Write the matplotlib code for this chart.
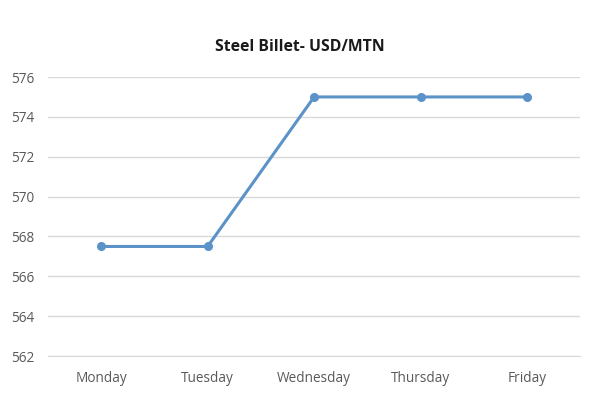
import matplotlib
matplotlib.use("Agg")
import matplotlib.pyplot as plt

days = ["Monday", "Tuesday", "Wednesday", "Thursday", "Friday"]
prices = [567.5, 567.5, 575, 575, 575]
y_ticks = [562, 564, 566, 568, 570, 572, 574, 576]

LINE_COLOR = "#5b93c9"
TEXT_COLOR = "#595959"

plt.rcParams["font.family"] = ["Open Sans", "DejaVu Sans"]

fig = plt.figure(figsize=(6, 3.97), dpi=100)
ax = fig.add_axes([0.08, 0.103, 0.887, 0.703])

x = list(range(len(days)))
ax.plot(x, prices, color=LINE_COLOR, linewidth=2.2, marker="o",
        markersize=5.5, solid_joinstyle="round", zorder=3)

ax.set_xlim(-0.5, len(days) - 0.5)
ax.set_ylim(562, 576)
ax.set_yticks(y_ticks)
ax.set_xticks(x)
ax.set_xticklabels(days)
ax.grid(axis="y", color="#d9d9d9", linewidth=1)
ax.set_axisbelow(True)
for side in ["top", "right", "left"]:
    ax.spines[side].set_visible(False)
ax.spines["bottom"].set_color("#d9d9d9")
ax.tick_params(axis="both", length=0, labelsize=9.8, colors=TEXT_COLOR)
ax.tick_params(axis="x", pad=11)
ax.tick_params(axis="y", pad=10)

fig.text(0.5, 0.882, "Steel Billet- USD/MTN", ha="center", va="center",
         fontsize=11.3, fontweight="bold", color="#1a1a1a")

fig.savefig("out.png", dpi=100)
